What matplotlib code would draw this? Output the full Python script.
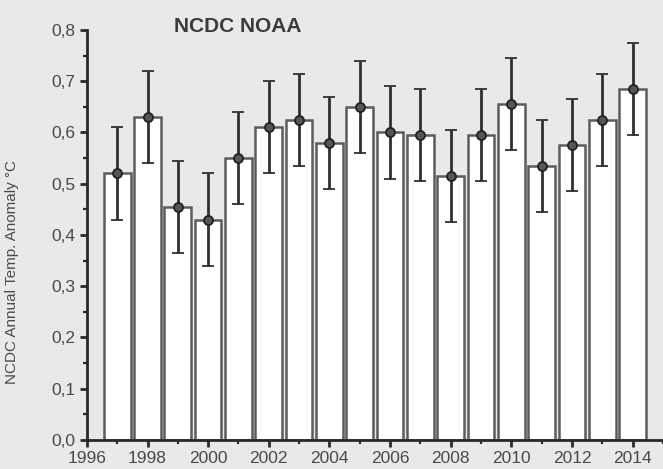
import matplotlib
matplotlib.use("Agg")
import matplotlib.pyplot as plt
from matplotlib.ticker import MultipleLocator, FuncFormatter

# NCDC NOAA annual temperature anomaly, 1997-2014
years = [1997, 1998, 1999, 2000, 2001, 2002, 2003, 2004, 2005,
         2006, 2007, 2008, 2009, 2010, 2011, 2012, 2013, 2014]
anomaly = [0.52, 0.63, 0.455, 0.43, 0.55, 0.61, 0.625, 0.58, 0.65,
           0.60, 0.595, 0.515, 0.595, 0.655, 0.535, 0.575, 0.625, 0.685]
error = [0.09, 0.09, 0.09, 0.09, 0.09, 0.09, 0.09, 0.09, 0.09,
         0.09, 0.09, 0.09, 0.09, 0.09, 0.09, 0.09, 0.09, 0.09]

plt.rcParams['font.family'] = ['Liberation Sans', 'DejaVu Sans']
bg = '#e9e9e7'
ink = '#3a3a3a'

fig = plt.figure(figsize=(6.63, 4.69), dpi=100, facecolor=bg)
ax = fig.add_axes([0.131, 0.062, 0.869, 0.874], facecolor=bg)

ax.bar(years, anomaly, width=0.88, facecolor='white', edgecolor='#5c5c5c',
       linewidth=1.8, zorder=2)

ax.errorbar(years, anomaly, yerr=error, fmt='o', color='#2f2f2f',
            markersize=6.5, markerfacecolor='#555555', markeredgecolor='#222222',
            markeredgewidth=1.3, elinewidth=2.0, capsize=4.5, capthick=1.8, zorder=4)

ax.set_xlim(1996, 2015)
ax.set_ylim(0, 0.8)
ax.xaxis.set_major_locator(MultipleLocator(2))
ax.xaxis.set_minor_locator(MultipleLocator(1))
ax.yaxis.set_major_locator(MultipleLocator(0.1))
ax.yaxis.set_minor_locator(MultipleLocator(0.05))
ax.yaxis.set_major_formatter(FuncFormatter(lambda v, p: f"{v:.1f}".replace('.', ',')))

for side in ('top', 'right'):
    ax.spines[side].set_visible(False)
for side in ('left', 'bottom'):
    ax.spines[side].set_linewidth(2.0)
    ax.spines[side].set_color('#2a2a2a')

ax.tick_params(which='major', direction='out', length=5, width=2, color='#2a2a2a',
               labelsize=12.5, labelcolor='#4a4a4a', pad=3)
ax.tick_params(which='minor', direction='out', length=3, width=1.6, color='#2a2a2a')

ax.set_ylabel('NCDC Annual Temp. Anomaly °C', fontsize=11, color='#4a4a4a')
ax.yaxis.set_label_coords(-0.118, 0.41)

fig.text(238 / 663, 1 - 26 / 469, 'NCDC NOAA', fontsize=15, fontweight='bold',
         color=ink, ha='center', va='center')

fig.savefig('out.png', dpi=100, facecolor=bg)
